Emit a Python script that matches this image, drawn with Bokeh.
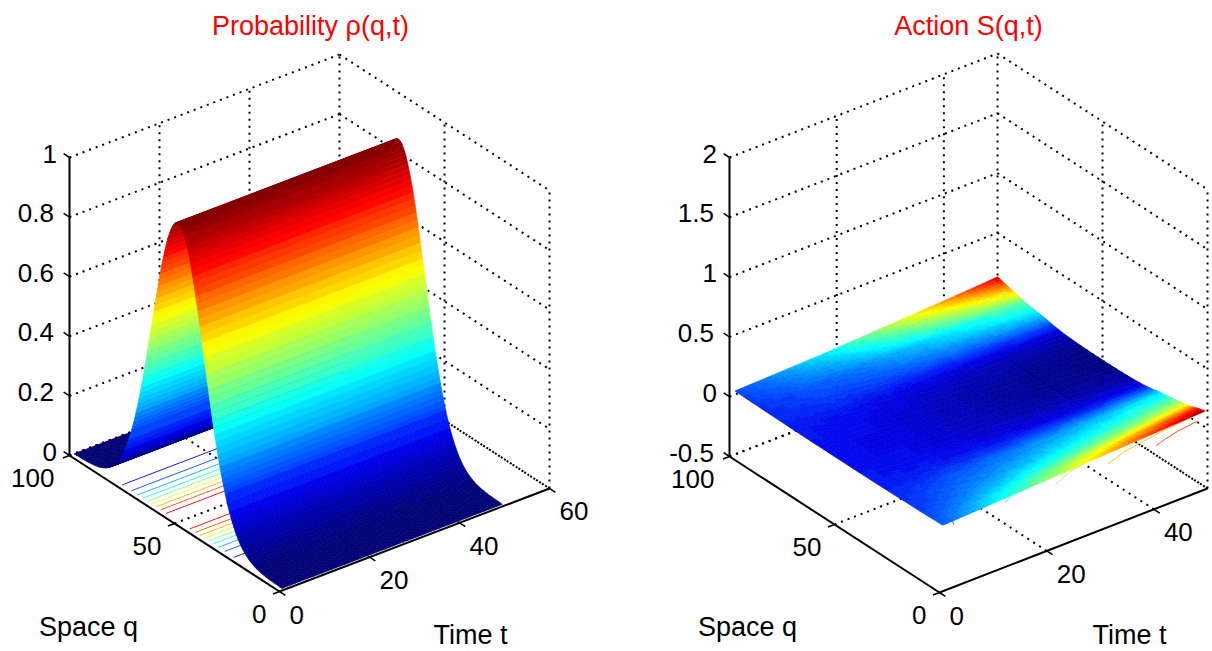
from bokeh.plotting import figure
from bokeh.layouts import row
from bokeh.models import Range1d
from bokeh.embed import file_html
from bokeh.resources import INLINE
from bokeh.core.properties import value
import numpy as np

# ---------- data ----------
q_values = list(range(1, 101))
t_values = list(range(1, 51))

rho_profile = [
 .000,.000,.001,.001,.001,.002,.002,.003,.004,.005,
 .006,.008,.010,.013,.017,.021,.026,.032,.040,.048,
 .059,.071,.086,.102,.121,.142,.166,.193,.223,.255,
 .291,.329,.369,.412,.458,.505,.553,.602,.650,.699,
 .746,.791,.833,.871,.906,.936,.961,.980,.993,.999,
 .999,.993,.980,.961,.936,.906,.871,.833,.791,.746,
 .699,.650,.602,.553,.505,.458,.412,.369,.329,.291,
 .255,.223,.193,.166,.142,.121,.102,.086,.071,.059,
 .048,.040,.032,.026,.021,.017,.013,.010,.008,.006,
 .005,.004,.003,.002,.002,.001,.001,.001,.000,.000]

S_low_edge = [
 .033,.035,.037,.039,.041,.043,.045,.047,.049,.052,
 .054,.056,.058,.060,.062,.064,.066,.069,.071,.073,
 .075,.077,.079,.081,.083,.086,.088,.090,.092,.094,
 .096,.098,.100,.102,.105,.107,.109,.111,.113,.115,
 .117,.119,.122,.124,.126,.128,.130,.132,.134,.136]
S_high_edge = [
 .030,.032,.033,.035,.036,.037,.039,.040,.042,.043,
 .045,.046,.047,.049,.050,.052,.053,.055,.057,.059,
 .062,.064,.066,.068,.071,.073,.075,.078,.080,.082,
 .084,.087,.089,.091,.094,.096,.099,.101,.103,.106,
 .108,.111,.113,.116,.118,.121,.123,.126,.130,.133]
S_centre = [
 .022,.022,.021,.021,.021,.020,.020,.020,.020,.020,
 .019,.019,.018,.018,.017,.017,.017,.017,.016,.015,
 .015,.014,.014,.014,.014,.013,.013,.012,.012,.011,
 .011,.011,.011,.010,.010,.009,.009,.009,.008,.008,
 .008,.008,.008,.008,.007,.007,.007,.006,.006,.006]
S_shape = [
 1.00,.97,.93,.90,.85,.80,.75,.70,.66,.62,
 .59,.56,.53,.50,.48,.46,.44,.42,.40,.38,
 .37,.34,.31,.28,.25,.22,.19,.17,.14,.12,
 .10,.09,.08,.07,.06,.05,.04,.03,.03,.02,
 .02,.01,.01,.01,.00,.00,.00,.00,.00,.00,
 .00,.00,.00,.00,.00,.00,.01,.01,.01,.02,
 .02,.03,.03,.04,.05,.06,.07,.08,.09,.11,
 .14,.16,.18,.21,.24,.27,.29,.32,.34,.36,
 .38,.41,.43,.45,.47,.49,.51,.55,.60,.64,
 .67,.71,.74,.78,.82,.86,.90,.93,.97,1.00]

rho_levels = [.1,.2,.3,.4,.5,.6,.7,.8,.9]
S_levels = [.017,.037,.057,.077,.097,.116,.136]
S_clim = [.003, .14]

z_ticks_left = [0, .2, .4, .6, .8, 1]
z_labels_left = ["0", "0.2", "0.4", "0.6", "0.8", "1"]
z_ticks_right = [-.5, 0, .5, 1, 1.5, 2]
z_labels_right = ["-0.5", "0", "0.5", "1", "1.5", "2"]
q_ticks = [0, 50, 100]
t_ticks_left = [0, 20, 40, 60]
t_ticks_right = [0, 20, 40]

FONT = value("Liberation Sans")
FS = "26px"
FS_BIG = "27px"


def jet_rgb(f):
    f = float(np.clip(f, 0, 1))
    r = np.clip(min(4*f-1.5, -4*f+4.5), 0, 1)
    g = np.clip(min(4*f-0.5, -4*f+3.5), 0, 1)
    b = np.clip(min(4*f+0.5, -4*f+2.5), 0, 1)
    return r, g, b


def to_hex(c, k=1.0):
    return "#%02x%02x%02x" % tuple(int(v*k*255) for v in c)


def jet(f):
    return to_hex(jet_rgb(f))


def jet64(f, k=1.0):
    i = min(int(np.clip(f, 0, 1)*64), 63)
    return to_hex(jet_rgb((i+0.5)/64), k)


def edge_dark(f):
    # the dark mesh texture that the low, flat parts of both surfaces show
    return 1.0-0.3*float(np.clip((0.2-f)/0.12, 0, 1))


class Box:
    def __init__(self, F, qv, tv, zs, zmin, zmax, tmax):
        self.F, self.qv, self.tv, self.zs = F, qv, tv, zs
        self.zmin, self.zmax, self.tmax = zmin, zmax, tmax

    def xy(self, q, t, z):
        q, t, z = np.broadcast_arrays(np.asarray(q, float), np.asarray(t, float), np.asarray(z, float))
        return (self.F[0]+q*self.qv[0]+t*self.tv[0],
                self.F[1]+q*self.qv[1]+t*self.tv[1]-(z-self.zmin)*self.zs)


def draw_box(p, b, z_ticks, t_ticks, z_labels):
    dash = dict(line_color="black", line_width=2, line_dash="2 5")
    qmax = q_ticks[-1]
    tall = sorted(set(t_ticks+[b.tmax]))

    def seg(a, c, **kw):
        xa, ya = b.xy(*a); xc, yc = b.xy(*c)
        p.line([float(xa), float(xc)], [float(ya), float(yc)], **kw)

    for z in z_ticks:
        seg((qmax, 0, z), (qmax, b.tmax, z), **dash)
        seg((qmax, b.tmax, z), (0, b.tmax, z), **dash)
    for t in tall[1:]:
        seg((qmax, t, b.zmin), (qmax, t, b.zmax), **dash)
    for q in q_ticks[:-1]:
        seg((q, b.tmax, b.zmin), (q, b.tmax, b.zmax), **dash)
    for t in tall[1:]:
        seg((0, t, b.zmin), (qmax, t, b.zmin), **dash)
    for q in q_ticks[1:]:
        seg((q, 0, b.zmin), (q, b.tmax, b.zmin), **dash)

    solid = dict(line_color="black", line_width=2)
    seg((qmax, 0, b.zmin), (qmax, 0, b.zmax), **solid)
    seg((qmax, 0, b.zmin), (0, 0, b.zmin), **solid)
    seg((0, 0, b.zmin), (0, b.tmax, b.zmin), **solid)

    tick = dict(line_color="black", line_width=1.5)
    tl = 7.0
    qn = np.hypot(*b.qv); tn = np.hypot(*b.tv)
    for z in z_ticks:
        x, y = b.xy(qmax, 0, z)
        p.line([float(x), float(x)+b.qv[0]/qn*tl], [float(y), float(y)+b.qv[1]/qn*tl], **tick)
    for q in q_ticks:
        x, y = b.xy(q, 0, b.zmin)
        p.line([float(x), float(x)-b.tv[0]/tn*tl], [float(y), float(y)-b.tv[1]/tn*tl], **tick)
    for t in t_ticks:
        x, y = b.xy(0, t, b.zmin)
        p.line([float(x), float(x)-b.qv[0]/qn*tl], [float(y), float(y)-b.qv[1]/qn*tl], **tick)


def draw_labels(p, b, z_ticks, z_labels, t_ticks):
    txt = dict(text_font=FONT, text_font_size=FS, text_color="black", text_baseline="middle")
    zx, zy = b.xy(q_ticks[-1], 0, z_ticks)
    zdx = np.array([-15.5 if len(s) > 1 else -12.5 for s in z_labels])
    p.text(x=(zx+zdx).tolist(), y=(zy-4).tolist(), text=z_labels, text_align="right", **txt)
    qx, qy = b.xy(q_ticks, 0, b.zmin)
    qlab = [str(q) for q in q_ticks]
    qdx = np.array([-15 if len(s) > 2 else -13 for s in qlab])
    p.text(x=(qx+qdx).tolist(), y=(qy+22).tolist(), text=qlab, text_align="right", **txt)
    tx, ty = b.xy(0, t_ticks, b.zmin)
    p.text(x=(tx+10).tolist(), y=(ty+23).tolist(), text=[str(t) for t in t_ticks], text_align="left", **txt)


def caption(p, x, y, s, color="black"):
    p.text(x=[x], y=[y], text=[s], text_font=FONT, text_font_size=FS_BIG, text_color=color,
           text_align="center", text_baseline="middle")


def new_fig(w, x0, x1):
    p = figure(width=w, height=650, x_range=Range1d(x0, x1), y_range=Range1d(650, 0),
               output_backend="svg", toolbar_location=None, min_border=0)
    p.axis.visible = False
    p.grid.visible = False
    p.outline_line_color = None
    return p


# ---------- left panel ----------
p1 = new_fig(606, 0, 606)
b1 = Box((279, 591), (-2.1, -1.36), (4.5, -1.717), 298, 0, 1, 60)
draw_box(p1, b1, z_ticks_left, t_ticks_left, z_labels_left)

q_arr = np.array(q_values, float)
rho = np.array(rho_profile)
t0, t1 = t_values[0], t_values[-1]
half = 50
for L in rho_levels:
    for qq, rr in ((q_arr[:half], rho[:half]), (q_arr[half:][::-1], rho[half:][::-1])):
        qc = float(np.interp(L, rr, qq))
        x, y = b1.xy([qc, qc], [t0, t1], [0, 0])
        p1.line(x.tolist(), y.tolist(), line_color=jet(L), line_width=1, line_alpha=0.9)

xs, ys, fills, lines = [], [], [], []


def add_cell(xs, ys, fills, lines, box, qa, qb, ta, tb, za, zb, f):
    x, y = box.xy([qa, qa, qb, qb], [ta, tb, tb, ta], [za, za, zb, zb])
    xs.append(x.tolist()); ys.append(y.tolist())
    fills.append(jet64(f)); lines.append(jet64(f, edge_dark(f)))


for i in range(len(q_values)-2, -1, -1):
    q_a, q_b = q_values[i], q_values[i+1]
    r_a, r_b = rho_profile[i], rho_profile[i+1]
    if max(r_a, r_b) < 0.2:
        for j in range(len(t_values)-2, -1, -1):
            add_cell(xs, ys, fills, lines, b1, q_a, q_b, t_values[j], t_values[j+1], r_a, r_b, r_a)
    else:
        q_m, r_m = (q_a+q_b)/2, (r_a+r_b)/2
        add_cell(xs, ys, fills, lines, b1, q_m, q_b, t0, t1, r_m, r_b, (r_m+r_b)/2)
        add_cell(xs, ys, fills, lines, b1, q_a, q_m, t0, t1, r_a, r_m, (r_a+r_m)/2)
p1.patches(xs, ys, fill_color=fills, line_color=lines, line_width=0.6)
draw_labels(p1, b1, z_ticks_left, z_labels_left, t_ticks_left)
caption(p1, 310, 25, "Probability ρ(q,t)", "#ff0000")
caption(p1, 88, 626, "Space q")
caption(p1, 470, 634, "Time t")

# ---------- right panel ----------
p2 = new_fig(606, 606, 1212)
b2 = Box((939, 592), (-2.1, -1.36), (5.36, -2.08), 119.6, -.5, 2, 50)
draw_box(p2, b2, z_ticks_right, t_ticks_right, z_labels_right)

shape = np.array(S_shape)
centre = np.array(S_centre)
low = np.array(S_low_edge)
high = np.array(S_high_edge)
edge = np.where(q_arr[:, None] < 51, low[None, :], high[None, :])
S = centre[None, :]+shape[:, None]*(edge-centre[None, :])
cmin, cmax = S_clim

for L in S_levels:
    f = (L-cmin)/(cmax-cmin)
    for rng in (list(range(0, half)), list(range(len(q_values)-1, half-1, -1))):
        qs, ts = [], []
        for j, t in enumerate(t_values):
            col = S[rng, j]
            qq = q_arr[rng]
            if col[0] >= L >= col.min():
                k = int(np.argmax(col < L)) if (col < L).any() else len(col)-1
                if k > 0:
                    w = (col[k-1]-L)/max(col[k-1]-col[k], 1e-9)
                    qs.append(qq[k-1]+w*(qq[k]-qq[k-1])); ts.append(t)
        if len(qs) > 1:
            x, y = b2.xy(qs, ts, cmin)
            p2.line(x.tolist(), y.tolist(), line_color=jet(f), line_width=1, line_alpha=0.9)

xs, ys, fills, lines = [], [], [], []
for i in range(len(q_values)-2, -1, -1):
    for j in range(len(t_values)-2, -1, -1):
        q_a, q_b = q_values[i], q_values[i+1]
        t_a, t_b = t_values[j], t_values[j+1]
        x, y = b2.xy([q_a, q_a, q_b, q_b], [t_a, t_b, t_b, t_a],
                     [S[i, j], S[i, j+1], S[i+1, j+1], S[i+1, j]])
        xs.append(x.tolist()); ys.append(y.tolist())
        f = (S[i, j]-cmin)/(cmax-cmin)
        fills.append(jet64(f)); lines.append(jet64(f, edge_dark(f)))
p2.patches(xs, ys, fill_color=fills, line_color=lines, line_width=0.6)
draw_labels(p2, b2, z_ticks_right, z_labels_right, t_ticks_right)
caption(p2, 968, 25, "Action S(q,t)", "#ff0000")
caption(p2, 747, 626, "Space q")
caption(p2, 1129, 634, "Time t")

open("out.html", "w").write(file_html(row(p1, p2), INLINE))
